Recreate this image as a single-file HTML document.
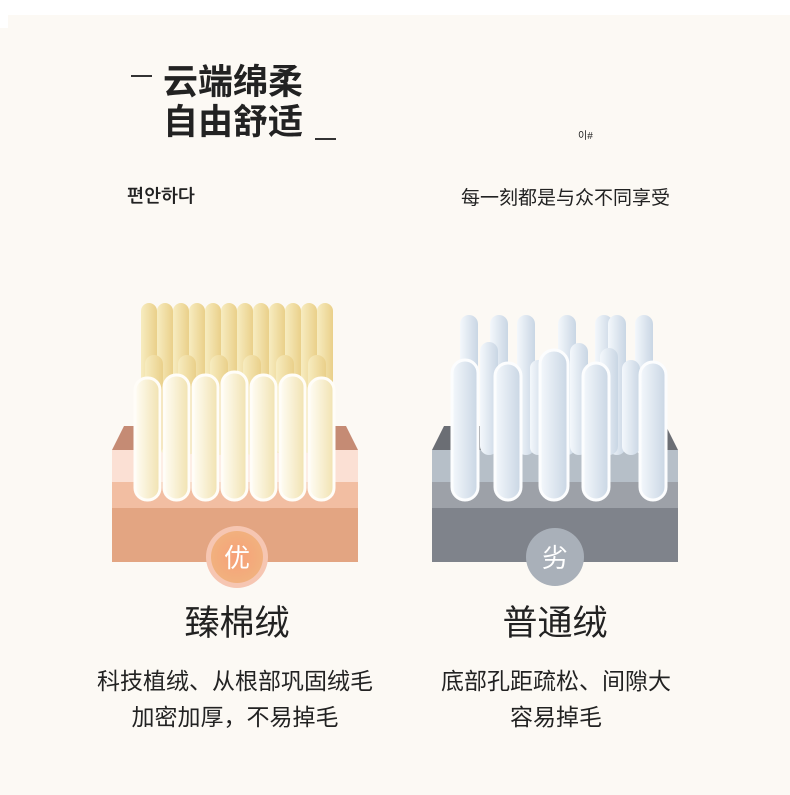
<!DOCTYPE html>
<html><head><meta charset="utf-8"><style>
body{margin:0;width:790px;height:795px;background:#fcf9f4;position:relative;overflow:hidden;font-family:"Liberation Sans","Noto Sans CJK SC",sans-serif;color:#222}
.t{position:absolute;white-space:nowrap}
</style></head><body>
<div style="position:absolute;left:0;top:0;width:790px;height:15px;background:#fff"></div>
<div style="position:absolute;left:0;top:15px;width:8px;height:13px;background:#fff"></div>
<div style="position:absolute;left:131px;top:75px;width:21px;height:2px;background:#333"></div>
<div class="t" style="left:163px;top:63px;font-size:35px;font-weight:bold;line-height:40px">云端绵柔</div>
<div class="t" style="left:163px;top:103px;font-size:35px;font-weight:bold;line-height:40px">自由舒适</div>
<div style="position:absolute;left:315px;top:138px;width:21px;height:2px;background:#333"></div>
<div class="t" style="left:127px;top:186px;font-size:18px;font-weight:bold;font-family:'Liberation Sans','NanumGothic',sans-serif">편안하다</div>
<div class="t" style="left:578px;top:127px;font-size:10px">이#</div>
<div class="t" style="left:461px;top:183px;font-size:19px">每一刻都是与众不同享受</div>
<svg style="position:absolute;left:0;top:0" width="790" height="795">
<defs>
<linearGradient id="y" x1="0" x2="1"><stop offset="0" stop-color="#f7ecc0"/><stop offset="1" stop-color="#ead08a"/></linearGradient>
<linearGradient id="w" x1="0" x2="1"><stop offset="0" stop-color="#fffdf5"/><stop offset="1" stop-color="#f1e2b0"/></linearGradient>
<linearGradient id="b" x1="0" x2="1"><stop offset="0" stop-color="#f4f8fc"/><stop offset="1" stop-color="#c9d6e4"/></linearGradient>
<radialGradient id="o"><stop offset="0" stop-color="#f7a078"/><stop offset="1" stop-color="#f1b17e"/></radialGradient>
</defs>
<polygon points="112,450 124,426 346,426 358,450" fill="#c58b74"/>
<rect x="112" y="450" width="246" height="32" fill="#fbe0d4"/>
<rect x="112" y="482" width="246" height="26" fill="#f2bea2"/>
<rect x="112" y="508" width="246" height="54" fill="#e3a582"/>
<g fill="url(#y)">
<rect x="141" y="303" width="16" height="150" rx="8"/><rect x="157" y="303" width="16" height="150" rx="8"/><rect x="173" y="303" width="16" height="150" rx="8"/><rect x="189" y="303" width="16" height="150" rx="8"/><rect x="205" y="303" width="16" height="150" rx="8"/><rect x="221" y="303" width="16" height="150" rx="8"/><rect x="237" y="303" width="16" height="150" rx="8"/><rect x="253" y="303" width="16" height="150" rx="8"/><rect x="269" y="303" width="16" height="150" rx="8"/><rect x="285" y="303" width="16" height="150" rx="8"/><rect x="301" y="303" width="16" height="150" rx="8"/><rect x="317" y="303" width="16" height="150" rx="8"/>
<rect x="145" y="355" width="18" height="100" rx="9"/><rect x="178" y="355" width="18" height="100" rx="9"/><rect x="210" y="355" width="18" height="100" rx="9"/><rect x="243" y="355" width="18" height="100" rx="9"/><rect x="276" y="355" width="18" height="100" rx="9"/><rect x="308" y="355" width="18" height="100" rx="9"/>
</g>
<g fill="url(#w)" stroke="#fffdf8" stroke-width="3">
<rect x="135" y="378" width="25" height="122" rx="12"/><rect x="164" y="375" width="25" height="125" rx="12"/><rect x="193" y="375" width="25" height="125" rx="12"/><rect x="222" y="372" width="25" height="128" rx="12"/><rect x="251" y="375" width="25" height="125" rx="12"/><rect x="280" y="375" width="25" height="125" rx="12"/><rect x="309" y="378" width="25" height="122" rx="12"/>
</g>
<circle cx="237" cy="557" r="31" fill="#f6c6b2"/><circle cx="237" cy="557" r="26" fill="url(#o)"/>
<text x="237" y="567" font-size="26" fill="#fff" text-anchor="middle" font-family="Noto Sans CJK SC">优</text>
<polygon points="432,450 444,426 666,426 678,450" fill="#6b6e74"/>
<rect x="432" y="450" width="246" height="32" fill="#b6bfc8"/>
<rect x="432" y="482" width="246" height="26" fill="#9da1a8"/>
<rect x="432" y="508" width="246" height="54" fill="#7f838b"/>
<g fill="url(#b)">
<rect x="460" y="315" width="18" height="140" rx="9"/><rect x="490" y="315" width="18" height="140" rx="9"/><rect x="517" y="315" width="18" height="140" rx="9"/><rect x="558" y="315" width="18" height="140" rx="9"/><rect x="595" y="315" width="18" height="140" rx="9"/><rect x="608" y="315" width="18" height="140" rx="9"/><rect x="635" y="315" width="18" height="140" rx="9"/>
<rect x="480" y="342" width="18" height="113" rx="9"/><rect x="530" y="360" width="16" height="95" rx="8"/><rect x="570" y="343" width="18" height="112" rx="9"/><rect x="600" y="348" width="18" height="107" rx="9"/><rect x="622" y="360" width="18" height="95" rx="9"/>
</g>
<g fill="url(#b)" stroke="#fcfdfe" stroke-width="3">
<rect x="452" y="360" width="26" height="140" rx="13"/><rect x="495" y="363" width="26" height="137" rx="13"/><rect x="540" y="350" width="28" height="150" rx="14"/><rect x="583" y="363" width="26" height="137" rx="13"/><rect x="640" y="362" width="26" height="138" rx="13"/>
</g>
<circle cx="555" cy="557" r="29" fill="#a9b0b9"/>
<text x="555" y="567" font-size="26" fill="#fff" text-anchor="middle" font-family="Noto Sans CJK SC">劣</text>
</svg>
<div class="t" style="left:137px;top:602px;width:200px;text-align:center;font-size:35px;line-height:44px">臻棉绒</div>
<div class="t" style="left:455px;top:602px;width:200px;text-align:center;font-size:35px;line-height:44px">普通绒</div>
<div class="t" style="left:75px;top:666px;width:320px;text-align:center;font-size:23px;line-height:30px">科技植绒、从根部巩固绒毛</div>
<div class="t" style="left:75px;top:702px;width:320px;text-align:center;font-size:23px;line-height:30px">加密加厚，不易掉毛</div>
<div class="t" style="left:396px;top:666px;width:320px;text-align:center;font-size:23px;line-height:30px">底部孔距疏松、间隙大</div>
<div class="t" style="left:396px;top:702px;width:320px;text-align:center;font-size:23px;line-height:30px">容易掉毛</div>
</body></html>
